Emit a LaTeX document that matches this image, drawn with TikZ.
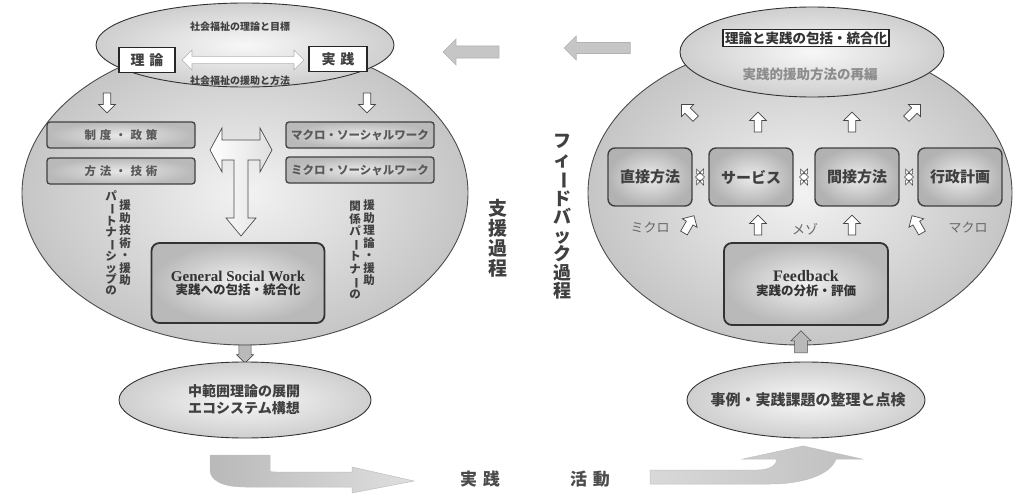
\documentclass[tikz,border=0pt]{standalone}
\usepackage{fontspec}
\setmainfont{Liberation Serif}
\newfontfamily\jp{Noto Sans CJK JP}
\usetikzlibrary{shapes.geometric,shapes.arrows}
\newcommand\vbar{\rotatebox[origin=c]{-90}{ー}}
\tikzset{
  bigell/.style={ellipse, draw=gray!60!black, line width=0.9pt, inner color=gray!10, outer color=gray!45},
  smell/.style={ellipse, draw=gray!40!black, line width=0.9pt, inner color=gray!6, outer color=gray!38},
  lbox/.style={rounded corners=3pt, draw=black!75, line width=1.3pt, inner color=gray!18, outer color=gray!55,
     minimum width=148pt, minimum height=26pt, inner sep=0pt, font=\jp\bfseries\fontsize{11.5}{13}\selectfont, text=black!65},
  rbox/.style={rounded corners=7pt, draw=black!75, line width=1.4pt, inner color=gray!15, outer color=gray!60,
     minimum width=84pt, minimum height=58pt, inner sep=0pt, font=\jp\bfseries\fontsize{15}{17}\selectfont, text=black!75},
  bigbox/.style={rounded corners=8pt, draw=black!80, line width=1.8pt, inner color=gray!12, outer color=gray!55,
     inner sep=0pt, align=center, text=black!80},
  wbox/.style={draw=black!85, line width=1.1pt, fill=white, inner sep=3pt},
  oarrow/.style={single arrow, draw=gray!55!black, fill=white, line width=0.7pt, minimum height=20pt,
     minimum width=17pt, single arrow head extend=3.5pt, inner sep=2.5pt},
  garrow/.style={single arrow, draw=gray!60, fill=gray!45, line width=0.6pt, inner sep=0pt},
  vtext/.style={align=center, inner sep=0pt, text=black!75},
  lbl/.style={font=\jp\fontsize{13}{15}\selectfont, text=black!60, inner sep=0pt},
  sdarrow/.style={double arrow, draw=gray!55!black, fill=white, line width=0.5pt, minimum height=9pt, minimum width=16pt,
      double arrow head extend=2pt, inner sep=1pt},
}
\begin{document}
\begin{tikzpicture}[x=1pt,y=-1pt]
\useasboundingbox (0,0) rectangle (1018,495);
% ---------------- left panel ----------------
\node[bigell, minimum width=446pt, minimum height=304pt] (bigL) at (245,193) {};
\node[smell, minimum width=298pt, minimum height=84pt] (topL) at (245,45) {};
\node[font=\jp\bfseries\fontsize{10}{12}\selectfont, text=black!75, inner sep=0pt] (tl1) at (240,27) {社会福祉の理論と目標};
\node[wbox, font=\jp\bfseries\fontsize{14}{16}\selectfont, text=black!75, minimum width=56pt, minimum height=25pt] (riron) at (147,60) {理\,\,論};
\node[wbox, font=\jp\bfseries\fontsize{14}{16}\selectfont, text=black!75, minimum width=58pt, minimum height=25pt] (jissen) at (338,59) {実\,\,践};
\node[double arrow, draw=gray!60, fill=white, line width=0.6pt, minimum height=122pt, minimum width=20pt,
      double arrow head extend=4pt, inner sep=2pt] (dar) at (243,60) {};
\node[font=\jp\bfseries\fontsize{10}{12}\selectfont, text=black!75, inner sep=0pt] (tl2) at (240,81) {社会福祉の援助と方法};
\node[oarrow, rotate=-90] (da1) at (107,101) {};
\node[oarrow, rotate=-90] (da2) at (367,101) {};
\node[lbox] (seido) at (121,135) {制\,\,度\,\,・\,\,政\,\,策};
\node[lbox] (hoho) at (121,171) {方\,\,法\,\,・\,\,技\,\,術};
\node[lbox] (macro) at (360,135) {マクロ・ソーシャルワーク};
\node[lbox] (micro) at (360,170) {ミクロ・ソーシャルワーク};
% T-shaped arrow
\draw[draw=gray!60!black, line width=0.7pt, left color=white, right color=gray!25]
  (210,150) -- (222,128) -- (222,140) -- (260,140) -- (260,128) -- (272,150) -- (260,172) -- (260,160)
  -- (248,160) -- (248,218) -- (256,218) -- (241,236) -- (226,218) -- (234,218) -- (234,160)
  -- (222,160) -- (222,172) -- cycle;
\node[bigbox, minimum width=173pt, minimum height=80pt] (gsw) at (238,283)
  {{\bfseries\fontsize{15}{18}\selectfont General Social Work}\\[1pt]{\jp\bfseries\fontsize{12.5}{15}\selectfont 実践への包括・統合化}};
\node[vtext, font=\jp\bfseries\fontsize{11.5}{12.5}\selectfont] (vl1) at (125,243) {援\\助\\技\\術\\・\\援\\助};
\node[vtext, font=\jp\bfseries\fontsize{11.5}{11.2}\selectfont] (vl2) at (111,243) {パ\\\vbar\\ト\\ナ\\\vbar\\シ\\ッ\\プ\\の};
\node[vtext, font=\jp\bfseries\fontsize{11.5}{12.5}\selectfont] (vr1) at (369,243) {援\\助\\理\\論\\・\\援\\助};
\node[vtext, font=\jp\bfseries\fontsize{11.5}{12.5}\selectfont] (vr2) at (355,250) {関\\係\\パ\\\vbar\\ト\\ナ\\\vbar\\の};
\node[vtext, font=\jp\bfseries\fontsize{19}{20}\selectfont] (shien) at (498,238) {支\\援\\過\\程};
\node[garrow, rotate=-90, draw=gray!60!black, fill=gray!55, minimum height=18pt, minimum width=17pt, single arrow head extend=2pt, inner sep=5pt] (da3) at (245,351) {};
\node[smell, minimum width=252pt, minimum height=76pt] (botL) at (245,400) {};
\node[font=\jp\bfseries\fontsize{14}{17}\selectfont, align=center, text=black!75] (botLt) at (244,400) {中範囲理論の展開\\エコシステム構想};
% bottom-left arrow
\draw[draw=gray!50, line width=0.5pt, left color=gray!55, right color=gray!25]
  (210,455) -- (270,455) -- (270,469) .. controls (270,472) .. (276,472) -- (352,472) -- (352,467)
  -- (414,481) -- (352,493) -- (352,487) -- (245,487) .. controls (222,487) and (210,480) .. (210,470) -- cycle;
\node[font=\jp\bfseries\fontsize{17}{20}\selectfont, text=black!70, inner sep=0pt] (jt) at (480,479) {実\,\,践};
\node[font=\jp\bfseries\fontsize{17}{20}\selectfont, text=black!70, inner sep=0pt] (kt) at (590,479) {活\,\,動};
% ---------------- middle ----------------
\node[garrow, rotate=180, minimum height=56pt, minimum width=26pt, single arrow head extend=5pt, inner sep=4pt] (la1) at (474,52) {};
\node[garrow, rotate=180, minimum height=66pt, minimum width=24pt, single arrow head extend=5pt, inner sep=4pt] (la2) at (600,48) {};
\node[vtext, font=\jp\bfseries\fontsize{18}{18.5}\selectfont] (fb) at (562,217) {フ\\ィ\\\vbar\\ド\\バ\\ッ\\ク\\過\\程};
% ---------------- right panel ----------------
\node[bigell, minimum width=424pt, minimum height=304pt] (bigR) at (800,193) {};
\node[smell, minimum width=264pt, minimum height=90pt] (topR) at (812,52) {};
\node[wbox, font=\jp\bfseries\fontsize{13.5}{15}\selectfont, text=black!80, inner sep=2pt] (tr1) at (806,38) {理論と実践の包括・統合化};
\node[font=\jp\bfseries\fontsize{13.5}{15}\selectfont, text=black!45, inner sep=0pt] (tr2) at (810,74) {実践的援助方法の再編};
\node[oarrow, rotate=135] (g1) at (690,113) {};
\node[oarrow, rotate=90] (u1) at (758,124) {};
\node[oarrow, rotate=90] (u2) at (852,124) {};
\node[oarrow, rotate=45] (g2) at (912,113) {};
\node[rbox] (b1) at (650,177) {直接方法};
\node[rbox] (b2) at (751,177) {サービス};
\node[rbox] (b3) at (857,177) {間接方法};
\node[rbox] (b4) at (960,177) {行政計画};
\node[sdarrow] (d1) at (700,177) {};
\node[sdarrow] (d2) at (804,177) {};
\node[sdarrow] (d3) at (909,177) {};
\node[lbl] (mi) at (650,228) {ミクロ};
\node[oarrow, rotate=60] (g3) at (688,226) {};
\node[oarrow, rotate=90] (u3) at (758,227) {};
\node[lbl] (me) at (805,229) {メゾ};
\node[oarrow, rotate=90] (u4) at (852,227) {};
\node[oarrow, rotate=120] (g4) at (918,226) {};
\node[lbl] (ma) at (968,228) {マクロ};
\node[bigbox, minimum width=164pt, minimum height=82pt] (fbk) at (806,284)
  {{\bfseries\fontsize{16}{19}\selectfont Feedback}\\[2pt]{\jp\bfseries\fontsize{12.5}{15}\selectfont 実践の分析・評価}};
\node[garrow, rotate=90, draw=gray!60!black, fill=gray!55, minimum height=22pt, minimum width=20pt, single arrow head extend=3pt, inner sep=5pt] (ua) at (801,345) {};
\node[smell, minimum width=238pt, minimum height=76pt] (botR) at (806,400) {};
\node[font=\jp\bfseries\fontsize{15}{17}\selectfont, text=black!75] (botRt) at (808,400) {事例・実践課題の整理と点検};
% bottom-right arrow
\draw[draw=gray!50, line width=0.5pt, left color=gray!30, right color=gray!50]
  (650,470) -- (758,470) .. controls (772,470) and (778,463) .. (776,459) -- (743,459) -- (803,446)
  -- (862,459) -- (836,459) .. controls (830,476) and (800,484) .. (770,484) -- (650,484) -- cycle;
\end{tikzpicture}
\end{document}
